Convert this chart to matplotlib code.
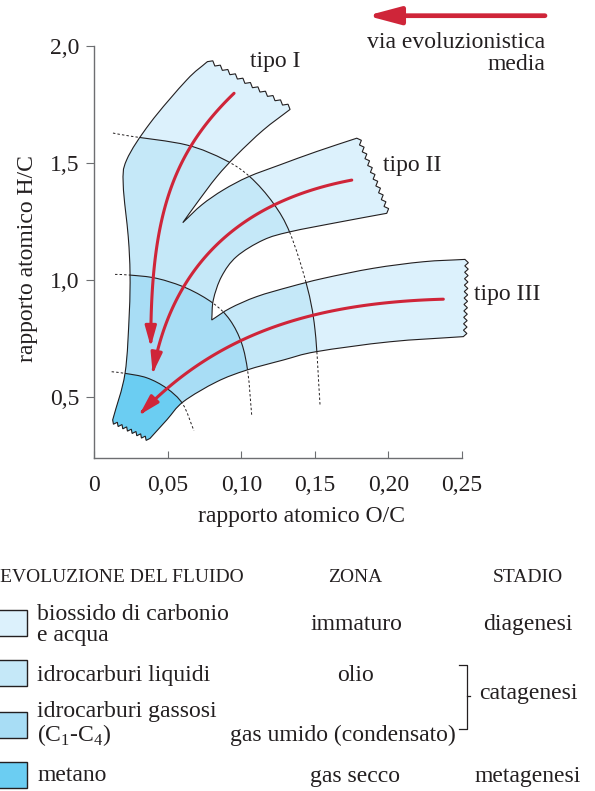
import numpy as np
import matplotlib
matplotlib.use('Agg')
import matplotlib.pyplot as plt
from matplotlib.path import Path
from matplotlib.patches import PathPatch, FancyArrowPatch, Rectangle
from matplotlib.lines import Line2D

plt.rcParams['font.family'] = 'Liberation Serif'
plt.rcParams['mathtext.fontset'] = 'custom'
plt.rcParams['mathtext.rm'] = 'Liberation Serif'

W, H = 595, 791
INK = '#231f20'
RED = '#cf2539'
GRAY = '#6d6e71'

# --- data: outline of the three kerogen bands (O/C, H/C) ---
left_edge = [(0.0769, 1.933), (0.0629, 1.855), (0.0379, 1.670), (0.0220, 1.513),
             (0.0197, 1.406), (0.0231, 1.185), (0.0243, 1.029), (0.0238, 0.858),
             (0.0209, 0.601), (0.0125, 0.402)]
bottom_edge = [(0.0379, 0.323), (0.0493, 0.402), (0.0606, 0.480), (0.0833, 0.565),
               (0.1037, 0.615), (0.1286, 0.658), (0.1513, 0.694), (0.2012, 0.736),
               (0.2511, 0.758)]
tipo3_top = [(0.2522, 1.088), (0.2239, 1.078), (0.1898, 1.050), (0.1558, 1.007),
             (0.1332, 0.971), (0.1105, 0.929), (0.0923, 0.879), (0.0799, 0.829)]
tipo2_bottom = [(0.0799, 0.829), (0.0810, 0.915), (0.0866, 1.015), (0.0968, 1.100),
                (0.1150, 1.171), (0.1332, 1.206), (0.1672, 1.248), (0.1990, 1.285)]
tipo2_top = [(0.1786, 1.606), (0.1513, 1.549), (0.1263, 1.492), (0.1048, 1.441),
             (0.0878, 1.385), (0.0731, 1.321), (0.0602, 1.245)]
tipo1_bottom = [(0.0602, 1.245), (0.0697, 1.328), (0.0833, 1.441), (0.0969, 1.534),
                (0.1150, 1.641), (0.1332, 1.729)]
n_teeth = [8, 12, 11, 11]

# isolines between zones (immaturo/olio, olio/gas umido, gas umido/gas secco)
arc_olio = [(0.0127, 1.628), (0.0243, 1.615), (0.0629, 1.577), (0.0889, 1.513),
            (0.1059, 1.441), (0.1218, 1.328), (0.1332, 1.200), (0.1445, 0.979),
            (0.1502, 0.786), (0.1536, 0.466)]
arc_gas = [(0.0141, 1.024), (0.0243, 1.021), (0.0425, 1.007), (0.0629, 0.965),
           (0.0810, 0.900), (0.0923, 0.829), (0.1003, 0.729), (0.1045, 0.605),
           (0.1071, 0.423)]
arc_secco = [(0.0118, 0.608), (0.0209, 0.601), (0.0357, 0.582), (0.0493, 0.537),
             (0.0602, 0.470), (0.0678, 0.356)]

# evolution paths: start, two control points, end (cubic bezier)
path_tipo1 = [(0.0951, 1.798), (0.0515, 1.534), (0.0384, 1.256), (0.0384, 0.715)]
path_tipo2 = [(0.1752, 1.427), (0.0923, 1.329), (0.0515, 1.021), (0.0397, 0.601)]
path_tipo3 = [(0.2375, 0.918), (0.1468, 0.902), (0.0821, 0.765), (0.0306, 0.423)]

zone_colors = ['#dcf1fc', '#c5e8f8', '#a8ddf5', '#6bcdf2']
fluid_labels = ['biossido di carbonio\ne acqua', 'idrocarburi liquidi',
                'idrocarburi gassosi\n(C$_{1}$-C$_{4}$)', 'metano']
zone_labels = ['immaturo', 'olio', 'gas umido (condensato)', 'gas secco']
stage_labels = ['diagenesi', 'catagenesi', 'metagenesi']

x_ticks = [0, 0.05, 0.10, 0.15, 0.20, 0.25]
x_ticklabels = ['0', '0,05', '0,10', '0,15', '0,20', '0,25']
y_ticks = [0.5, 1.0, 1.5, 2.0]
y_ticklabels = ['0,5', '1,0', '1,5', '2,0']


def bezier(pts):
    # catmull-rom through the points, expressed as cubic bezier segments
    p = np.asarray(pts, float)
    ext = np.vstack([2 * p[0] - p[1], p, 2 * p[-1] - p[-2]])
    verts, codes = [], []
    for i in range(1, len(ext) - 2):
        c1 = ext[i] + (ext[i + 1] - ext[i - 1]) / 6
        c2 = ext[i + 1] - (ext[i + 2] - ext[i]) / 6
        verts += [c1, c2, ext[i + 1]]
        codes += [Path.CURVE4] * 3
    return verts, codes


def open_curve(pts):
    v, c = bezier(pts)
    return Path([pts[0]] + v, [Path.MOVETO] + c)


def cubic_samples(ctrl, k=80):
    # sample one cubic bezier so the arrow patch can follow it
    p0, p1, p2, p3 = [np.asarray(c, float) for c in ctrl]
    t = np.linspace(0, 1, k)[:, None]
    pts = ((1 - t) ** 3 * p0 + 3 * (1 - t) ** 2 * t * p1
           + 3 * (1 - t) * t ** 2 * p2 + t ** 3 * p3)
    return Path(pts)


def zigzag(ax, a, b, n, amp=3.5):
    tr = ax.transData
    pa, pb = tr.transform(a), tr.transform(b)
    d = pb - pa
    nrm = np.array([d[1], -d[0]]) / np.hypot(*d)
    pts = []
    for k in range(1, 2 * n + 1):
        q = pa + d * k / (2 * n) + (amp * nrm if k % 2 else 0)
        pts.append(q)
    return list(tr.inverted().transform(np.array(pts)))


fig = plt.figure(figsize=(W / 100, H / 100), dpi=100)
ax = fig.add_axes([94.3 / W, 1 - 458 / H, 367.4 / W, 412 / H])
ax.set_xlim(0, 0.25)
ax.set_ylim(2 - 412 / 234, 2.0)

# band outline
pieces = [left_edge, bottom_edge, tipo3_top, tipo2_bottom, tipo2_top, tipo1_bottom]
verts, codes = [left_edge[0]], [Path.MOVETO]
jag_after = {0: (bottom_edge[0], n_teeth[0]), 1: (tipo3_top[0], n_teeth[1]),
             3: (tipo2_top[0], n_teeth[2]), 5: (left_edge[0], n_teeth[3])}
for i, pc in enumerate(pieces):
    v, c = bezier(pc)
    verts += v
    codes += c
    if i in jag_after:
        end, n = jag_after[i]
        z = zigzag(ax, pc[-1], end, n)
        verts += z
        codes += [Path.LINETO] * len(z)
verts.append(left_edge[0])
codes.append(Path.CLOSEPOLY)
band_path = Path(verts, codes)

band = PathPatch(band_path, facecolor=zone_colors[0], edgecolor='none', zorder=2,
                 clip_on=False)
ax.add_patch(band)

arcs = [arc_olio, arc_gas, arc_secco]
for arc, col in zip(arcs, zone_colors[1:]):
    v, c = bezier(arc)
    reg = Path([arc[0]] + v + [(arc[-1][0], -1), (-1, -1), (-1, arc[0][1]), arc[0]],
               [Path.MOVETO] + c + [Path.LINETO] * 3 + [Path.CLOSEPOLY])
    zp = PathPatch(reg, facecolor=col, edgecolor='none', zorder=2)
    ax.add_patch(zp)
    zp.set_clip_path(band)

for arc in arcs:
    ax.add_patch(PathPatch(open_curve(arc), fill=False, edgecolor=INK, lw=0.7,
                           linestyle=(0, (2.5, 2.2)), zorder=1, clip_on=False))
    sp = PathPatch(open_curve(arc), fill=False, edgecolor=INK, lw=0.8, zorder=3)
    ax.add_patch(sp)
    sp.set_clip_path(band)

ax.add_patch(PathPatch(band_path, fill=False, edgecolor=INK, lw=0.8, zorder=4,
                       clip_on=False))

for ctrl in [path_tipo1, path_tipo2, path_tipo3]:
    arr = FancyArrowPatch(path=cubic_samples(ctrl),
                          arrowstyle='-|>,head_length=1.0,head_width=0.28',
                          mutation_scale=12, color=RED, lw=2.2, zorder=5)
    ax.add_patch(arr)

ax.text(0.106, 1.933, 'tipo I', fontsize=17, color=INK, va='center')
ax.text(0.1962, 1.491, 'tipo II', fontsize=17, color=INK, va='center')
ax.text(0.2584, 0.936, 'tipo III', fontsize=17, color=INK, va='center')

for s in ['top', 'right']:
    ax.spines[s].set_visible(False)
for s in ['left', 'bottom']:
    ax.spines[s].set_color(GRAY)
    ax.spines[s].set_linewidth(1.0)
ax.set_xticks(x_ticks)
ax.set_xticklabels(x_ticklabels)
ax.set_yticks(y_ticks)
ax.set_yticklabels(y_ticklabels)
ax.tick_params(axis='x', direction='in', length=5, color=GRAY, pad=12,
               labelsize=17, labelcolor=INK)
ax.tick_params(axis='y', direction='out', length=6, color=GRAY, pad=5,
               labelsize=17, labelcolor=INK)


def ftext(x, y, s, **kw):
    kw.setdefault('color', INK)
    kw.setdefault('fontsize', 17)
    return fig.text(x / W, 1 - y / H, s, **kw)


ftext(302, 522, 'rapporto atomico O/C', ha='center', va='baseline')
ftext(28, 259, 'rapporto atomico H/C', ha='center', va='center', rotation=90)

# average evolution arrow
ax.annotate('', xy=(367, H - 15.7), xytext=(545, H - 15.7), xycoords='figure pixels',
            textcoords='figure pixels',
            arrowprops=dict(arrowstyle='-|>,head_length=0.9,head_width=0.24',
                            mutation_scale=22, color=RED, lw=3.4, shrinkA=0, shrinkB=0))
ftext(545, 48, 'via evoluzionistica', ha='right', va='baseline')
ftext(545, 70, 'media', ha='right', va='baseline')

# legend table
ftext(0, 582, 'EVOLUZIONE DEL FLUIDO', ha='left', va='baseline', fontsize=14)
ftext(355, 582, 'ZONA', ha='center', va='baseline', fontsize=14)
ftext(528, 582, 'STADIO', ha='center', va='baseline', fontsize=14)

box_tops = [610, 660, 712, 762]
label_y = [641, 681, 741, 781]   # baseline of last line
zone_x = [356, 356, 343, 355]
zone_y = [630, 681, 741, 782]
for top, col, lab, ly in zip(box_tops, zone_colors, fluid_labels, label_y):
    fig.add_artist(Rectangle((-5 / W, 1 - (top + 26) / H), 32 / W, 26 / H,
                             facecolor=col, edgecolor=INK, lw=1.0,
                             transform=fig.transFigure))
    ftext(37, ly, lab, ha='left', va='baseline', linespacing=0.98)
for lab, zx, zy in zip(zone_labels, zone_x, zone_y):
    ftext(zx, zy, lab, ha='center', va='baseline')
for lab, sy in zip(stage_labels, [630, 699, 782]):
    ftext(528, sy, lab, ha='center', va='baseline')

bx = [459, 466.5, 466.5, 459]
by = [665, 665, 729, 729]
fig.add_artist(Line2D([x / W for x in bx], [1 - y / H for y in by], color=INK, lw=0.9,
                      transform=fig.transFigure))
fig.add_artist(Line2D([466.5 / W, 470 / W], [1 - 696 / H] * 2, color=INK, lw=0.9,
                      transform=fig.transFigure))

fig.savefig('out.png', dpi=100)
